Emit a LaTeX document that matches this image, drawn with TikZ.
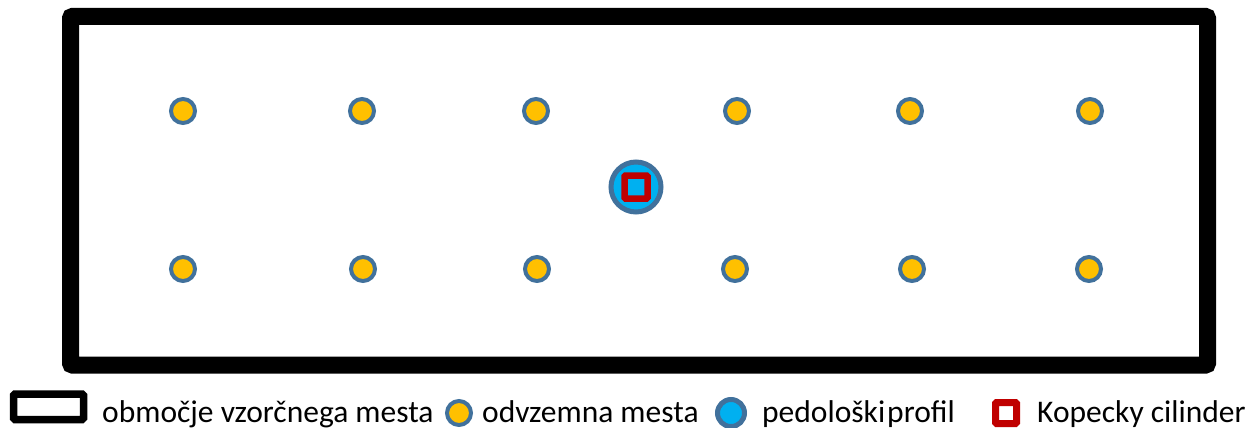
\documentclass[tikz,border=0pt]{standalone}
\usepackage{fontspec}
\setmainfont{Carlito}
\usepackage{tikz}
\usetikzlibrary{positioning}
\definecolor{rim}{HTML}{41719C}
\definecolor{sampl}{HTML}{FFC000}
\definecolor{profil}{HTML}{00B0F0}
\definecolor{cyl}{HTML}{C00000}
\tikzset{
  site/.style={circle,draw=rim,fill=sampl,line width=4pt,inner sep=0pt,minimum size=24pt},
  pit/.style={circle,draw=rim,fill=profil,line width=5pt,inner sep=0pt,minimum size=#1},
  kop/.style={rectangle,draw=cyl,line width=6.5pt,inner sep=0pt,minimum size=#1,rounded corners=1pt},
  legtxt/.style={anchor=base west,inner sep=0pt,text=black}
}
\begin{document}
\begin{tikzpicture}[x=1pt,y=-1pt,font=\fontsize{31.5}{36}\selectfont]
      \useasboundingbox (0,0) rectangle (1248,428);
      % sampling area
      \draw[line width=17pt,rounded corners=2pt] (70.5,16.5) rectangle (1207.5,365);
      % sampling points, upper and lower row
      \foreach \i/\xa/\xb in {1/183/183, 2/362/363, 3/536/537, 4/737/735, 5/910/912, 6/1090/1089}{
        \node[site] (up\i) at (\xa,111) {};
        \node[site] (lo\i) at (\xb,269) {};}
      % soil profile with the cylinder
      \node[pit=50pt] (prof) at (636,187) {};
      \node[kop=23pt] (cyl) at (prof.center) {};
      % legend
      \draw[line width=7.5pt,rounded corners=1.5pt] (13.5,394) rectangle (83.5,419.5);
      \node[legtxt] (l1) at (102,422) {območje vzorčnega mesta};
      \node[site,minimum size=24pt] (s1) at (459,413) {};
      \node[legtxt] (l2) at (482,422) {odvzemna mesta};
      \node[pit=27pt,line width=5pt] (p1) at (731,413) {};
      \node[legtxt] (l3) at (762,422) {pedološki\hspace{2pt}profil};
      \node[kop=21pt,line width=7pt,fill=white] (k1) at (1006,413) {};
      \node[legtxt] (l4) at (1037,422) {Kopecky cilinder};
\end{tikzpicture}
\end{document}
